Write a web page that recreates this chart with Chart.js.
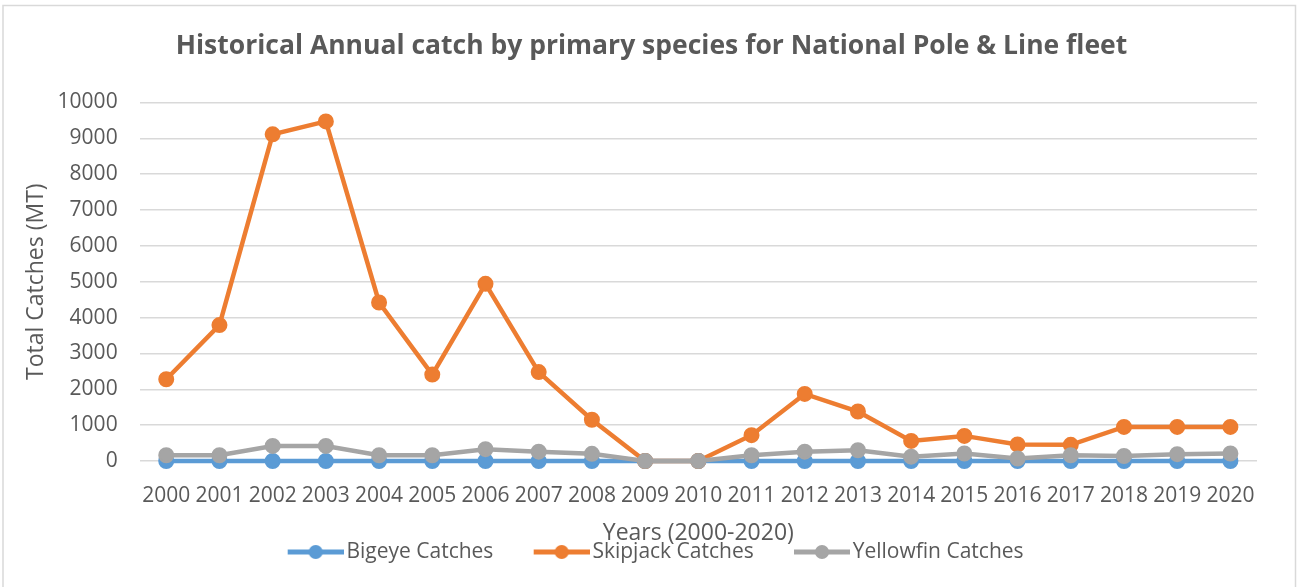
<!DOCTYPE html>
<html>
<head>
<meta charset="utf-8">
<script src="https://cdn.jsdelivr.net/npm/chart.js@4.4.1/dist/chart.umd.min.js"></script>
<style>
  html, body { margin: 0; padding: 0; background: #ffffff; }
  #wrap { width: 1303px; height: 587px; }
</style>
</head>
<body>
<div id="wrap"><canvas id="catchChart" width="1303" height="587"></canvas></div>
<script>
// Annual catch (metric tonnes) by species, National Pole & Line fleet
const years = ['2000', '2001', '2002', '2003', '2004', '2005', '2006', '2007', '2008', '2009', '2010',
               '2011', '2012', '2013', '2014', '2015', '2016', '2017', '2018', '2019', '2020'];
const bigeyeCatch    = [0, 0, 0, 0, 0, 0, 0, 0, 0, 0, 0, 0, 0, 0, 0, 0, 0, 0, 0, 0, 0];
const skipjackCatch  = [2280, 3790, 9110, 9470, 4420, 2410, 4940, 2480, 1150, 0, 0,
                        720, 1870, 1380, 560, 700, 460, 450, 950, 950, 950];
const yellowfinCatch = [160, 160, 420, 420, 160, 160, 330, 260, 200, 0, 0,
                        160, 260, 300, 120, 210, 70, 160, 140, 190, 210];
const yTickValues = [0, 1000, 2000, 3000, 4000, 5000, 6000, 7000, 8000, 9000, 10000];

const seriesNames = ['Bigeye Catches', 'Skipjack Catches', 'Yellowfin Catches'];
const seriesColors = ['#5B9BD5', '#ED7D31', '#A5A5A5'];
const TEXT = '#595959';
const GRID = '#D9D9D9';
const FONT = '"Open Sans", "Noto Sans", sans-serif';

// Legend swatch: a short line with a dot; the left part of the image is left empty
// so the swatch sits right next to its label.
function legendSwatch(color) {
  const c = document.createElement('canvas');
  c.width = 72; c.height = 16;
  const g = c.getContext('2d');
  g.strokeStyle = color;
  g.lineWidth = 5;
  g.beginPath(); g.moveTo(16, 8); g.lineTo(72, 8); g.stroke();
  g.fillStyle = color;
  g.beginPath(); g.arc(44, 8, 7, 0, Math.PI * 2); g.fill();
  return c;
}

// Thin frame around the whole chart
const framePlugin = {
  id: 'frame',
  beforeDraw(chart) {
    const ctx = chart.ctx;
    ctx.save();
    ctx.strokeStyle = GRID;
    ctx.lineWidth = 1.5;
    ctx.strokeRect(3, 5.5, 1292.5, 620);
    ctx.restore();
  }
};

function lineDataset(i, values, order) {
  return {
    label: seriesNames[i],
    data: values,
    borderColor: seriesColors[i],
    backgroundColor: seriesColors[i],
    borderWidth: 4.5,
    pointRadius: 7,
    pointBorderWidth: 2,
    pointBackgroundColor: seriesColors[i],
    pointBorderColor: seriesColors[i],
    tension: 0,
    clip: false,
    order: order
  };
}

Chart.defaults.font.family = FONT;
Chart.defaults.color = TEXT;

new Chart(document.getElementById('catchChart'), {
  type: 'line',
  data: {
    labels: years,
    datasets: [
      lineDataset(0, bigeyeCatch, 3),
      lineDataset(1, skipjackCatch, 2),
      lineDataset(2, yellowfinCatch, 1)
    ]
  },
  plugins: [framePlugin],
  options: {
    responsive: false,
    animation: false,
    events: [],
    layout: { padding: { left: 21, right: 21, top: 0, bottom: 14.5 } },
    plugins: {
      title: {
        display: true,
        text: 'Historical Annual catch by primary species for National Pole & Line fleet',
        color: TEXT,
        font: { family: FONT, size: 26.5, weight: 'bold' },
        padding: { top: 30.6, bottom: 40 }
      },
      legend: {
        position: 'bottom',
        labels: {
          usePointStyle: true,
          pointStyleWidth: 56.5,
          padding: 32,
          color: TEXT,
          font: { family: FONT, size: 21 },
          sort: (a, b) => a.datasetIndex - b.datasetIndex,
          generateLabels(chart) {
            const items = Chart.defaults.plugins.legend.labels.generateLabels(chart);
            items.forEach(it => { it.pointStyle = legendSwatch(seriesColors[it.datasetIndex]); });
            return items;
          }
        }
      },
      tooltip: { enabled: false }
    },
    scales: {
      x: {
        type: 'category',
        offset: true,
        grid: { display: false, drawTicks: false },
        border: { display: false },
        ticks: {
          color: TEXT, font: { family: FONT, size: 21 },
          padding: 22, maxRotation: 0, autoSkip: false
        },
        title: {
          display: true,
          text: 'Years (2000-2020)',
          color: TEXT,
          font: { family: FONT, size: 23 },
          padding: { top: -11, bottom: -37.3 }
        }
      },
      y: {
        min: 0,
        max: 10000,
        afterBuildTicks(scale) { scale.ticks = yTickValues.map(v => ({ value: v })); },
        grid: { color: GRID, lineWidth: 1.4, drawTicks: false },
        border: { display: false },
        ticks: {
          color: TEXT, font: { family: FONT, size: 21 }, padding: 22,
          callback: v => String(v)
        },
        title: {
          display: true,
          text: 'Total Catches (MT)',
          color: TEXT,
          font: { family: FONT, size: 23 },
          padding: { top: 2, bottom: -15 }
        }
      },
      // empty spacer on the right so the plot is centred under the title
      spacer: {
        position: 'right',
        display: true,
        grid: { display: false, drawTicks: false },
        border: { display: false },
        ticks: { display: false },
        afterFit(scale) { scale.width = 25; }
      }
    }
  }
});
</script>
</body>
</html>
